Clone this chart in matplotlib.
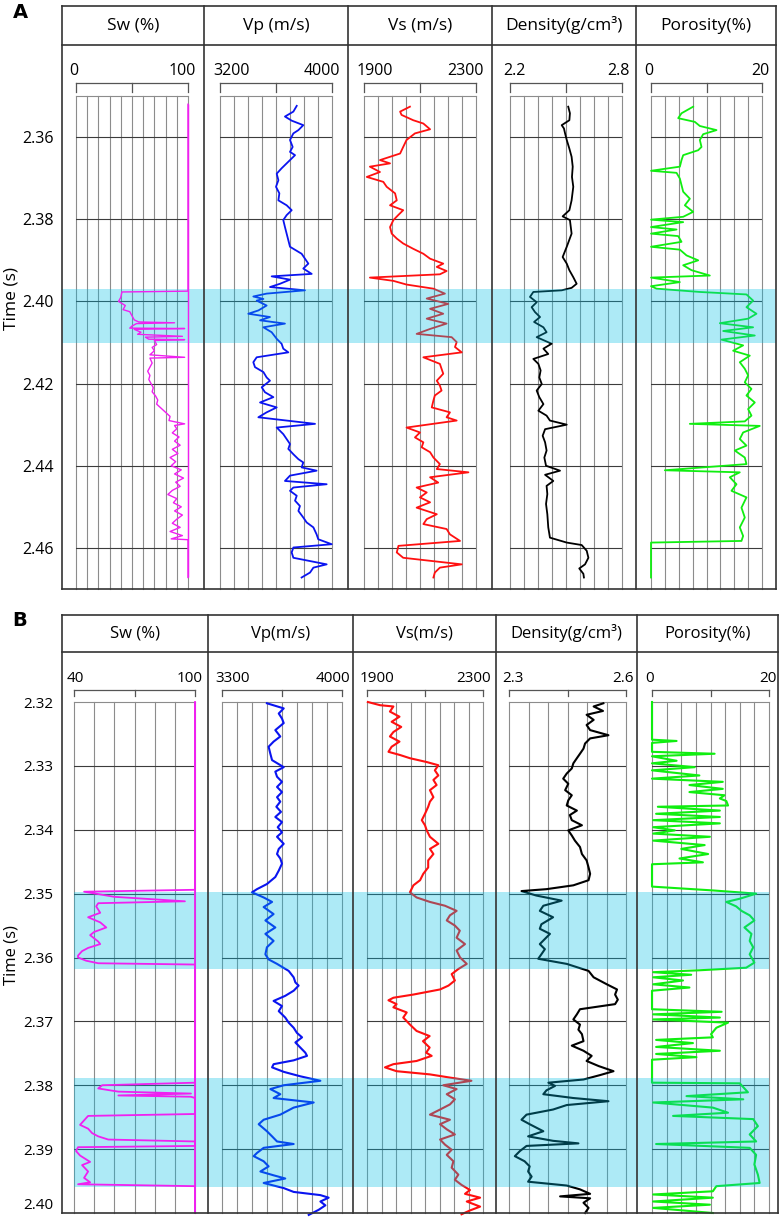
import matplotlib
matplotlib.use("Agg")
import matplotlib.pyplot as plt
from matplotlib.lines import Line2D
from matplotlib.transforms import blended_transform_factory, offset_copy
import numpy as np

plt.rcParams['font.family'] = ['Open Sans', 'DejaVu Sans']

# ======================= DATA =======================
# ---- Panel A ----
A_TITLES = ["Sw (%)", "Vp (m/s)", "Vs (m/s)", "Density(g/cm³)", "Porosity(%)"]
A_SCALE_MIN = [0, 3200, 1900, 2.2, 0]
A_SCALE_MAX = [100, 4000, 2300, 2.8, 20]
A_SCALE_LABELS = [("0", "100"), ("3200", "4000"), ("1900", "2300"), ("2.2", "2.8"), ("0", "20")]
A_DIVS = [10, 8, 8, 8, 8]
A_TIME_TICKS = [2.36, 2.38, 2.40, 2.42, 2.44, 2.46]
A_TIME_RANGE = (2.35, 2.47)
A_BANDS = [(2.397, 2.410)]

A_SW_T = [2.352, 2.3975, 2.3977, 2.3990, 2.4000, 2.4010, 2.4020, 2.4025, 2.4035, 2.4045, 2.4050, 2.4052, 2.4054,
          2.4060, 2.4065, 2.4066, 2.4068, 2.4075, 2.4080, 2.4085, 2.4087, 2.4092, 2.4093, 2.4095, 2.4105, 2.4112,
          2.4120, 2.4130, 2.4136, 2.4138, 2.4150, 2.4160, 2.4170, 2.4180, 2.4190, 2.4200, 2.4210, 2.4220, 2.4230,
          2.4240, 2.4250, 2.4260, 2.4270, 2.4280, 2.4290, 2.4298, 2.4302, 2.4310, 2.4320, 2.4330, 2.4340, 2.4350,
          2.4360, 2.4370, 2.4380, 2.4390, 2.4400, 2.4410, 2.4420, 2.4430, 2.4440, 2.4450, 2.4460, 2.4470, 2.4480,
          2.4490, 2.4500, 2.4510, 2.4520, 2.4530, 2.4540, 2.4550, 2.4560, 2.4570, 2.4578, 2.4580, 2.4672]
A_SW_V = [100, 100, 41, 40, 38, 44, 42, 48, 50, 52, 56, 88, 54,
          50, 48, 97, 52, 58, 55, 95, 62, 65, 97, 70, 72, 68,
          70, 66, 97, 66, 68, 66, 64, 66, 65, 67, 69, 68, 71,
          73, 72, 76, 80, 84, 83, 97, 88, 90, 86, 92, 88, 93,
          86, 91, 84, 89, 85, 94, 88, 96, 89, 93, 86, 82, 90,
          87, 94, 88, 95, 90, 86, 93, 84, 95, 85, 100, 100]

A_VP_T = [2.3524, 2.3538, 2.3550, 2.3560, 2.3571, 2.3583, 2.3591, 2.3607, 2.3624, 2.3636, 2.3644, 2.3656, 2.3664,
          2.3676, 2.3689, 2.3705, 2.3721, 2.3737, 2.3754, 2.3766, 2.3778, 2.3790, 2.3802, 2.3819, 2.3835, 2.3851,
          2.3867, 2.3884, 2.3896, 2.3908, 2.3920, 2.3933, 2.3939, 2.3947, 2.3957, 2.3965, 2.3973, 2.3981, 2.3988,
          2.3994, 2.3998, 2.4010, 2.4022, 2.4030, 2.4038, 2.4046, 2.4054, 2.4063, 2.4075, 2.4091, 2.4103, 2.4115,
          2.4124, 2.4136, 2.4148, 2.4160, 2.4172, 2.4185, 2.4193, 2.4209, 2.4221, 2.4233, 2.4246, 2.4258, 2.4270,
          2.4282, 2.4290, 2.4298, 2.4307, 2.4323, 2.4335, 2.4347, 2.4359, 2.4372, 2.4384, 2.4392, 2.4404, 2.4412,
          2.4424, 2.4437, 2.4445, 2.4453, 2.4461, 2.4473, 2.4485, 2.4498, 2.4510, 2.4526, 2.4538, 2.4550, 2.4567,
          2.4579, 2.4591, 2.4599, 2.4611, 2.4624, 2.4640, 2.4648, 2.4660, 2.4672]
A_VP_V = [3748, 3724, 3664, 3712, 3795, 3760, 3724, 3700, 3719, 3700, 3736, 3700, 3676,
          3640, 3605, 3617, 3600, 3624, 3617, 3676, 3712, 3676, 3652, 3664, 3676, 3688,
          3700, 3783, 3807, 3831, 3795, 3855, 3569, 3700, 3629, 3557, 3807, 3533, 3438,
          3510, 3462, 3533, 3474, 3402, 3557, 3486, 3664, 3510, 3569, 3605, 3640, 3652,
          3688, 3462, 3438, 3450, 3510, 3533, 3557, 3498, 3521, 3581, 3486, 3605, 3533,
          3474, 3676, 3879, 3605, 3652, 3676, 3700, 3688, 3724, 3760, 3795, 3783, 3890,
          3700, 3664, 3962, 3724, 3700, 3748, 3736, 3771, 3760, 3795, 3819, 3867, 3890,
          3902, 3998, 3724, 3712, 3724, 3962, 3867, 3843, 3783]

A_VS_T = [2.3526, 2.3538, 2.3546, 2.3559, 2.3567, 2.3581, 2.3591, 2.3607, 2.3624, 2.3640, 2.3656, 2.3664, 2.3672,
          2.3685, 2.3697, 2.3709, 2.3721, 2.3737, 2.3754, 2.3766, 2.3778, 2.3790, 2.3802, 2.3819, 2.3835, 2.3847,
          2.3859, 2.3872, 2.3884, 2.3896, 2.3908, 2.3916, 2.3926, 2.3934, 2.3942, 2.3950, 2.3959, 2.3969, 2.3981,
          2.3993, 2.4006, 2.4018, 2.4030, 2.4042, 2.4054, 2.4067, 2.4079, 2.4087, 2.4099, 2.4111, 2.4124, 2.4136,
          2.4152, 2.4164, 2.4176, 2.4193, 2.4205, 2.4217, 2.4229, 2.4241, 2.4258, 2.4270, 2.4282, 2.4290, 2.4307,
          2.4319, 2.4331, 2.4343, 2.4355, 2.4367, 2.4380, 2.4396, 2.4408, 2.4416, 2.4428, 2.4441, 2.4453, 2.4465,
          2.4477, 2.4489, 2.4502, 2.4518, 2.4530, 2.4542, 2.4554, 2.4567, 2.4583, 2.4595, 2.4611, 2.4624, 2.4640,
          2.4648, 2.4660, 2.4672]
A_VS_V = [2064, 2029, 2034, 2076, 2112, 2136, 2082, 2052, 2040, 2029, 1957, 1993, 1921,
          1957, 1910, 1969, 1981, 2011, 2017, 1993, 2040, 2022, 2005, 1993, 1999, 2017,
          2040, 2076, 2112, 2136, 2183, 2160, 2195, 2171, 1921, 2005, 2052, 2148, 2189,
          2124, 2201, 2136, 2183, 2124, 2195, 2136, 2088, 2213, 2231, 2225, 2249, 2112,
          2171, 2177, 2183, 2160, 2171, 2177, 2153, 2148, 2142, 2207, 2195, 2231, 2052,
          2100, 2082, 2112, 2106, 2136, 2148, 2171, 2160, 2273, 2136, 2165, 2088, 2124,
          2100, 2136, 2088, 2160, 2124, 2112, 2195, 2207, 2243, 2023, 2017, 2040, 2249,
          2171, 2153, 2148]

A_DEN_T = [2.3526, 2.3542, 2.3559, 2.3571, 2.3579, 2.3591, 2.3607, 2.3628, 2.3648, 2.3672, 2.3697, 2.3721, 2.3754,
           2.3778, 2.3793, 2.3802, 2.3835, 2.3867, 2.3892, 2.3908, 2.3924, 2.3941, 2.3957, 2.3967, 2.3973, 2.3977,
           2.3989, 2.4002, 2.4014, 2.4026, 2.4038, 2.4050, 2.4063, 2.4075, 2.4087, 2.4103, 2.4115, 2.4128, 2.4140,
           2.4152, 2.4168, 2.4185, 2.4201, 2.4217, 2.4233, 2.4250, 2.4266, 2.4278, 2.4290, 2.4300, 2.4311, 2.4327,
           2.4343, 2.4363, 2.4380, 2.4400, 2.4412, 2.4422, 2.4437, 2.4449, 2.4469, 2.4493, 2.4518, 2.4550, 2.4575,
           2.4587, 2.4593, 2.4607, 2.4624, 2.4640, 2.4650, 2.4663, 2.4672]
A_DEN_V = [2.512, 2.521, 2.518, 2.477, 2.489, 2.495, 2.504, 2.518, 2.530, 2.536, 2.532, 2.539, 2.530,
           2.518, 2.482, 2.521, 2.530, 2.504, 2.482, 2.504, 2.518, 2.539, 2.557, 2.530, 2.477, 2.325,
           2.307, 2.343, 2.316, 2.334, 2.361, 2.329, 2.379, 2.396, 2.343, 2.423, 2.379, 2.405, 2.325,
           2.352, 2.364, 2.357, 2.370, 2.343, 2.357, 2.379, 2.352, 2.396, 2.414, 2.504, 2.388, 2.375,
           2.388, 2.396, 2.384, 2.393, 2.468, 2.388, 2.432, 2.396, 2.400, 2.393, 2.400, 2.405, 2.414,
           2.504, 2.584, 2.611, 2.620, 2.602, 2.571, 2.593, 2.596]

A_POR_T = [2.3526, 2.3542, 2.3554, 2.3563, 2.3573, 2.3583, 2.3593, 2.3607, 2.3624, 2.3632, 2.3644, 2.3656, 2.3672,
           2.3682, 2.3687, 2.3701, 2.3717, 2.3733, 2.3750, 2.3766, 2.3782, 2.3794, 2.3801, 2.3807, 2.3819, 2.3825,
           2.3835, 2.3841, 2.3855, 2.3867, 2.3874, 2.3888, 2.3900, 2.3912, 2.3924, 2.3937, 2.3942, 2.3953, 2.3963,
           2.3969, 2.3977, 2.3983, 2.3998, 2.4014, 2.4030, 2.4042, 2.4053, 2.4063, 2.4072, 2.4083, 2.4093, 2.4107,
           2.4120, 2.4132, 2.4148, 2.4164, 2.4180, 2.4197, 2.4213, 2.4229, 2.4246, 2.4262, 2.4278, 2.4292, 2.4298,
           2.4303, 2.4319, 2.4335, 2.4351, 2.4363, 2.4380, 2.4396, 2.4411, 2.4416, 2.4428, 2.4445, 2.4461, 2.4477,
           2.4502, 2.4526, 2.4550, 2.4571, 2.4583, 2.4587, 2.4672]
A_POR_V = [7.6, 5.5, 4.9, 7.9, 8.8, 11.8, 9.4, 8.8, 9.1, 8.5, 5.8, 5.5, 5.2,
           0.0, 4.6, 5.2, 5.5, 5.8, 7.0, 6.1, 7.6, 5.8, 0.0, 5.8, 0.0, 4.6,
           0.0, 4.9, 5.5, 0.0, 5.2, 6.4, 8.5, 5.8, 7.3, 10.6, 0.0, 5.2, 0.0,
           1.0, 8.8, 17.2, 18.4, 17.2, 19.0, 17.5, 12.4, 18.4, 13.0, 18.7, 12.7, 16.6,
           14.8, 17.8, 16.0, 16.9, 17.5, 16.9, 18.1, 17.2, 18.7, 17.5, 18.1, 16.9, 7.0,
           19.6, 16.6, 16.0, 17.2, 15.1, 16.9, 17.2, 2.5, 16.0, 14.2, 15.4, 14.5, 17.2,
           16.3, 16.9, 16.0, 16.6, 16.3, 0.0, 0.0]

# ---- Panel B ----
B_TITLES = ["Sw (%)", "Vp(m/s)", "Vs(m/s)", "Density(g/cm³)", "Porosity(%)"]
B_SCALE_MIN = [40, 3300, 1900, 2.3, 0]
B_SCALE_MAX = [100, 4000, 2300, 2.6, 20]
B_SCALE_LABELS = [("40", "100"), ("3300", "4000"), ("1900", "2300"), ("2.3", "2.6"), ("0", "20")]
B_DIVS = [6, 8, 8, 6, 8]
B_TIME_TICKS = [2.32, 2.33, 2.34, 2.35, 2.36, 2.37, 2.38, 2.39, 2.40]
B_TIME_RANGE = (2.32, 2.40)
B_BANDS = [(2.3497, 2.3618), (2.3788, 2.3960)]

B_SW_T = [2.3200, 2.3494, 2.3497, 2.3505, 2.3512, 2.3515, 2.3520, 2.3530, 2.3537, 2.3545, 2.3553, 2.3560, 2.3565,
          2.3575, 2.3579, 2.3585, 2.3590, 2.3597, 2.3600, 2.3605, 2.3609, 2.3611, 2.3796, 2.3800, 2.3805, 2.3810,
          2.3813, 2.3816, 2.3818, 2.3820, 2.3845, 2.3848, 2.3855, 2.3862, 2.3868, 2.3875, 2.3880, 2.3885, 2.3888,
          2.3895, 2.3897, 2.3903, 2.3910, 2.3920, 2.3925, 2.3935, 2.3945, 2.3952, 2.3955, 2.3958, 2.4000]
B_SW_V = [100, 100, 45, 60, 95, 52, 51, 53, 47, 53, 56, 50, 48,
          52, 53, 47, 44, 42, 42, 46, 52, 100, 100, 54, 52, 62,
          98, 62, 98, 100, 100, 47, 45, 43, 47, 49, 52, 57, 100,
          100, 42, 41, 43, 48, 44, 47, 45, 48, 42, 100, 100]

B_VP_T = [2.3202, 2.3210, 2.3218, 2.3226, 2.3233, 2.3244, 2.3254, 2.3262, 2.3270, 2.3281, 2.3291, 2.3302, 2.3309,
          2.3317, 2.3325, 2.3333, 2.3341, 2.3349, 2.3356, 2.3364, 2.3372, 2.3380, 2.3388, 2.3396, 2.3404, 2.3411,
          2.3422, 2.3430, 2.3438, 2.3445, 2.3453, 2.3464, 2.3474, 2.3485, 2.3493, 2.3498, 2.3506, 2.3513, 2.3521,
          2.3532, 2.3542, 2.3553, 2.3563, 2.3574, 2.3584, 2.3595, 2.3603, 2.3610, 2.3621, 2.3631, 2.3639, 2.3644,
          2.3652, 2.3660, 2.3668, 2.3676, 2.3684, 2.3694, 2.3702, 2.3710, 2.3718, 2.3725, 2.3733, 2.3741, 2.3749,
          2.3754, 2.3761, 2.3767, 2.3772, 2.3779, 2.3786, 2.3793, 2.3800, 2.3806, 2.3814, 2.3820, 2.3827, 2.3835,
          2.3846, 2.3854, 2.3861, 2.3872, 2.3880, 2.3888, 2.3892, 2.3898, 2.3906, 2.3911, 2.3919, 2.3927, 2.3935,
          2.3941, 2.3946, 2.3953, 2.3961, 2.3967, 2.3972, 2.3976, 2.3982, 2.3988, 2.3995, 2.4003]
B_VP_V = [3562, 3660, 3631, 3650, 3660, 3611, 3640, 3601, 3572, 3582, 3592, 3660, 3611,
          3621, 3650, 3621, 3650, 3621, 3640, 3617, 3644, 3611, 3650, 3625, 3650, 3621,
          3660, 3631, 3621, 3640, 3650, 3631, 3611, 3562, 3504, 3475, 3543, 3592, 3543,
          3601, 3553, 3611, 3553, 3601, 3562, 3553, 3572, 3621, 3689, 3718, 3728, 3747,
          3718, 3669, 3601, 3650, 3631, 3669, 3689, 3718, 3737, 3767, 3728, 3757, 3786,
          3796, 3718, 3601, 3592, 3660, 3757, 3874, 3660, 3582, 3640, 3601, 3835, 3718,
          3640, 3543, 3514, 3562, 3592, 3621, 3718, 3543, 3504, 3485, 3543, 3572, 3524,
          3601, 3669, 3543, 3660, 3718, 3874, 3922, 3874, 3903, 3864, 3806]

B_VS_T = [2.3200, 2.3205, 2.3207, 2.3215, 2.3223, 2.3231, 2.3239, 2.3247, 2.3254, 2.3262, 2.3270, 2.3278, 2.3283,
          2.3288, 2.3294, 2.3299, 2.3307, 2.3315, 2.3322, 2.3330, 2.3338, 2.3349, 2.3356, 2.3364, 2.3375, 2.3385,
          2.3393, 2.3401, 2.3411, 2.3422, 2.3430, 2.3438, 2.3448, 2.3459, 2.3469, 2.3479, 2.3487, 2.3498, 2.3506,
          2.3513, 2.3519, 2.3527, 2.3534, 2.3542, 2.3550, 2.3558, 2.3569, 2.3579, 2.3589, 2.3600, 2.3610, 2.3618,
          2.3626, 2.3636, 2.3644, 2.3650, 2.3658, 2.3663, 2.3667, 2.3673, 2.3678, 2.3686, 2.3694, 2.3705, 2.3715,
          2.3723, 2.3731, 2.3741, 2.3749, 2.3754, 2.3762, 2.3767, 2.3772, 2.3778, 2.3783, 2.3788, 2.3793, 2.3800,
          2.3806, 2.3814, 2.3822, 2.3830, 2.3838, 2.3846, 2.3854, 2.3861, 2.3869, 2.3877, 2.3885, 2.3893, 2.3901,
          2.3909, 2.3919, 2.3929, 2.3940, 2.3948, 2.3956, 2.3964, 2.3970, 2.3976, 2.3982, 2.3990, 2.3996, 2.4002]
B_VS_V = [1903, 1945, 1991, 1979, 2012, 1985, 2018, 1991, 1979, 2012, 1985, 1974, 2014,
          2048, 2106, 2146, 2134, 2146, 2129, 2140, 2117, 2129, 2117, 2111, 2100, 2089,
          2100, 2106, 2117, 2146, 2117, 2129, 2111, 2111, 2094, 2083, 2060, 2048, 2071,
          2117, 2169, 2209, 2186, 2175, 2203, 2220, 2209, 2238, 2209, 2221, 2244, 2215,
          2192, 2203, 2181, 2152, 2060, 1991, 1974, 2002, 1991, 2037, 2025, 2048, 2071,
          2116, 2093, 2116, 2104, 2123, 2071, 1991, 1962, 2002, 2117, 2186, 2260, 2163,
          2209, 2175, 2203, 2186, 2152, 2117, 2186, 2152, 2175, 2203, 2152, 2169, 2192,
          2175, 2198, 2192, 2215, 2203, 2226, 2255, 2238, 2290, 2244, 2290, 2255, 2226]

B_DEN_T = [2.3202, 2.3207, 2.3214, 2.3220, 2.3228, 2.3236, 2.3244, 2.3252, 2.3257, 2.3265, 2.3273, 2.3281, 2.3288,
           2.3296, 2.3304, 2.3312, 2.3320, 2.3328, 2.3338, 2.3346, 2.3354, 2.3362, 2.3370, 2.3377, 2.3385, 2.3393,
           2.3401, 2.3409, 2.3417, 2.3427, 2.3438, 2.3448, 2.3459, 2.3469, 2.3479, 2.3487, 2.3493, 2.3496, 2.3503,
           2.3511, 2.3519, 2.3527, 2.3537, 2.3548, 2.3555, 2.3563, 2.3571, 2.3579, 2.3587, 2.3595, 2.3602, 2.3610,
           2.3621, 2.3631, 2.3642, 2.3650, 2.3658, 2.3666, 2.3673, 2.3681, 2.3689, 2.3697, 2.3705, 2.3713, 2.3720,
           2.3731, 2.3738, 2.3746, 2.3754, 2.3762, 2.3770, 2.3778, 2.3784, 2.3791, 2.3796, 2.3801, 2.3808, 2.3814,
           2.3820, 2.3825, 2.3831, 2.3838, 2.3846, 2.3854, 2.3861, 2.3872, 2.3880, 2.3887, 2.3891, 2.3895, 2.3903,
           2.3911, 2.3919, 2.3927, 2.3935, 2.3943, 2.3951, 2.3957, 2.3963, 2.3970, 2.3974, 2.3977, 2.3984, 2.3992,
           2.4000]
B_DEN_V = [2.542, 2.517, 2.541, 2.499, 2.517, 2.499, 2.508, 2.555, 2.508, 2.495, 2.491, 2.482, 2.474,
           2.465, 2.461, 2.448, 2.439, 2.452, 2.444, 2.461, 2.452, 2.448, 2.474, 2.456, 2.461, 2.487,
           2.452, 2.461, 2.469, 2.482, 2.487, 2.499, 2.504, 2.508, 2.504, 2.465, 2.396, 2.332, 2.370,
           2.435, 2.388, 2.379, 2.413, 2.383, 2.379, 2.405, 2.392, 2.379, 2.392, 2.383, 2.375, 2.448,
           2.504, 2.517, 2.551, 2.577, 2.572, 2.579, 2.572, 2.482, 2.474, 2.465, 2.482, 2.478, 2.487,
           2.491, 2.461, 2.491, 2.512, 2.499, 2.530, 2.568, 2.534, 2.491, 2.401, 2.418, 2.396, 2.388,
           2.465, 2.555, 2.448, 2.413, 2.345, 2.332, 2.353, 2.388, 2.349, 2.413, 2.478, 2.345, 2.328,
           2.315, 2.340, 2.353, 2.349, 2.358, 2.349, 2.448, 2.482, 2.508, 2.431, 2.508, 2.491, 2.504,
           2.495]

B_POR_T = [2.3200, 2.3259, 2.3261, 2.3264, 2.3278, 2.3281, 2.3285, 2.3292, 2.3296, 2.3302, 2.3307, 2.3315, 2.3320,
           2.3325, 2.3330, 2.3336, 2.3341, 2.3346, 2.3351, 2.3355, 2.3362, 2.3364, 2.3370, 2.3375, 2.3380, 2.3385,
           2.3390, 2.3396, 2.3401, 2.3406, 2.3411, 2.3417, 2.3424, 2.3430, 2.3438, 2.3445, 2.3451, 2.3454, 2.3489,
           2.3495, 2.3500, 2.3508, 2.3513, 2.3520, 2.3527, 2.3534, 2.3542, 2.3553, 2.3563, 2.3574, 2.3584, 2.3595,
           2.3608, 2.3616, 2.3620, 2.3623, 2.3627, 2.3631, 2.3636, 2.3642, 2.3647, 2.3652, 2.3681, 2.3685, 2.3689,
           2.3694, 2.3697, 2.3702, 2.3710, 2.3720, 2.3725, 2.3729, 2.3734, 2.3740, 2.3746, 2.3751, 2.3756, 2.3760,
           2.3796, 2.3797, 2.3803, 2.3811, 2.3817, 2.3822, 2.3827, 2.3835, 2.3843, 2.3848, 2.3853, 2.3864, 2.3877,
           2.3888, 2.3892, 2.3898, 2.3909, 2.3924, 2.3940, 2.3953, 2.3958, 2.3966, 2.3971, 2.3976, 2.3982, 2.3987,
           2.3992, 2.4000]
B_POR_V = [0.0, 0.0, 4.2, 0.0, 0.0, 10.7, 0.0, 4.2, 0.0, 7.3, 0.0, 8.1, 0.0,
           12.1, 6.4, 12.1, 6.4, 12.4, 11.6, 12.7, 13.0, 1.0, 11.6, 0.7, 11.6, 0.2,
           11.6, 0.2, 3.9, 0.2, 9.9, 0.2, 9.0, 5.0, 9.6, 4.7, 8.7, 0.0, 0.0,
           10.4, 17.8, 15.0, 12.7, 14.4, 15.3, 16.7, 17.5, 15.8, 17.0, 16.7, 17.3, 16.7,
           17.5, 16.1, 8.1, 0.2, 6.7, 0.2, 5.3, 0.2, 6.4, 0.0, 0.0, 11.9, 0.2,
           11.6, 0.2, 13.0, 11.0, 10.1, 10.4, 0.7, 7.0, 0.7, 11.6, 0.7, 7.6, 0.0,
           0.0, 15.0, 15.6, 16.4, 5.9, 15.6, 0.2, 10.4, 13.0, 3.6, 17.3, 18.1, 16.7,
           17.8, 0.7, 16.7, 17.8, 17.5, 18.1, 18.4, 11.0, 10.4, 0.2, 10.4, 0.2, 9.9,
           0.2, 10.4]

CURVE_COLORS = ["#f020f0", "#0a14f0", "#ff1010", "#000000", "#10ee10"]

# ======================= LAYOUT (pixels) =======================
W, H = 782, 1220
LAYOUT_A = dict(frame=(62, 6, 776, 589), header_bottom=45,
                cols=[62, 204, 348, 492, 636, 776],
                boxes=[(76, 188), (220, 332), (364, 476), (510, 622), (651, 762)],
                grid_top=96, bar_y=83, bar_tick=92, label_y=71, band_x=(62, 776),
                title_fs=12.5, tick_fs=11.5, letter="A", letter_xy=(20, 12), ylabel_y=298,
                lw=1.3, sw_lw=1.0)
LAYOUT_B = dict(frame=(62, 615, 778, 1213), header_bottom=652,
                cols=[62, 208, 353, 496, 637, 778],
                boxes=[(74, 195), (222, 342), (367, 483), (509, 626), (652, 769)],
                grid_top=702, bar_y=690, bar_tick=696, label_y=679, band_x=(74, 769),
                title_fs=12, tick_fs=11, letter="B", letter_xy=(20, 621), ylabel_y=955,
                lw=1.5, sw_lw=1.3)

fig = plt.figure(figsize=(W / 100, H / 100), dpi=100)


def fx(x):
    return x / W


def fy(y):
    return 1 - y / H


def axes_px(l, t, r, b):
    return fig.add_axes([fx(l), fy(b), fx(r) - fx(l), fy(t) - fy(b)])


def fig_line(x0, y0, x1, y1, color="#333333", lw=1.2):
    fig.add_artist(Line2D([fx(x0), fx(x1)], [fy(y0), fy(y1)], transform=fig.transFigure,
                          color=color, lw=lw, zorder=10))


def draw_panel(L, titles, smin, smax, slabels, divs, tticks, trange, bands, curves):
    fl, ft, fr, fb = L["frame"]
    gt = L["grid_top"]
    # tracks
    for i in range(5):
        bl, br = L["boxes"][i]
        ax = axes_px(bl, gt, br, fb)
        ax.set_xlim(smin[i], smax[i])
        ax.set_ylim(trange[1], trange[0])
        ax.axis("off")
        for xv in np.linspace(smin[i], smax[i], divs[i] + 1):
            ax.axvline(xv, color="#8c8c8c", lw=0.8, clip_on=False, zorder=1)
        ax.axhline(trange[0], color="#8c8c8c", lw=0.8, clip_on=False, zorder=1)
        for tv in tticks:
            if trange[0] < tv < trange[1]:
                ax.axhline(tv, color="#3c3c3c", lw=0.8, zorder=1)
        if i > 0:
            t, v = curves[i]
            ax.plot(v, t, color=CURVE_COLORS[i], lw=L["lw"], zorder=3, clip_on=False,
                    solid_joinstyle="round")
        # scale bar
        tr = blended_transform_factory(ax.transData, fig.transFigure)
        mid = (smin[i] + smax[i]) / 2
        ax.add_line(Line2D([smin[i], smax[i]], [fy(L["bar_y"])] * 2, transform=tr, color="#555555",
                           lw=0.9, clip_on=False))
        for xv in (smin[i], mid, smax[i]):
            ax.add_line(Line2D([xv, xv], [fy(L["bar_y"]), fy(L["bar_tick"])], transform=tr,
                               color="#555555", lw=0.9, clip_on=False))
        ax.text(smin[i], fy(L["label_y"]), slabels[i][0],
                transform=offset_copy(tr, fig=fig, x=-7, y=0, units="dots"),
                ha="left", va="center", fontsize=L["tick_fs"], clip_on=False)
        ax.text(smax[i], fy(L["label_y"]), slabels[i][1],
                transform=offset_copy(tr, fig=fig, x=8, y=0, units="dots"),
                ha="right", va="center", fontsize=L["tick_fs"], clip_on=False)
        # header title
        cl, cr = L["cols"][i], L["cols"][i + 1]
        fig.text(fx((cl + cr) / 2), fy((ft + L["header_bottom"]) / 2), titles[i],
                 ha="center", va="center", fontsize=L["title_fs"])

    # overlay time axis + bands
    tax = axes_px(fl, gt, fr, fb)
    tax.set_ylim(trange[1], trange[0])
    tax.set_xlim(0, 1)
    tax.patch.set_visible(False)
    for s in tax.spines.values():
        s.set_visible(False)
    tax.set_xticks([])
    tax.set_yticks(tticks)
    tax.set_yticklabels(["%.2f" % v for v in tticks])
    tax.tick_params(axis="y", length=0, pad=6, labelsize=L["tick_fs"])
    if tticks[-1] >= trange[1]:
        tax.get_yticklabels()[-1].set_va("bottom")
    bx0 = (L["band_x"][0] - fl) / (fr - fl)
    bx1 = (L["band_x"][1] - fl) / (fr - fl)
    for b0, b1 in bands:
        tax.axhspan(b0, b1, xmin=bx0, xmax=bx1, color="#00bee6", alpha=0.32, lw=0, zorder=5)

    # Sw curve drawn above the bands
    bl, br = L["boxes"][0]
    sax = axes_px(bl, gt, br, fb)
    sax.set_xlim(smin[0], smax[0])
    sax.set_ylim(trange[1], trange[0])
    sax.axis("off")
    t, v = curves[0]
    sax.vlines(max(v), min(t), max(t), color=CURVE_COLORS[0], lw=L["sw_lw"], clip_on=False)
    sax.plot(v, t, color=CURVE_COLORS[0], lw=L["sw_lw"], clip_on=False, solid_joinstyle="round")

    # frame lines
    fig_line(fl, ft, fr, ft)
    fig_line(fl, fb, fr, fb)
    fig_line(fl, L["header_bottom"], fr, L["header_bottom"])
    for c in L["cols"]:
        fig_line(c, ft, c, fb)

    fig.text(fx(12), fy(L["ylabel_y"]), "Time (s)", rotation=90, ha="center", va="center",
             fontsize=L["title_fs"])
    fig.text(fx(L["letter_xy"][0]), fy(L["letter_xy"][1]), L["letter"], ha="center", va="center",
             fontsize=14, fontweight="bold", family=["DejaVu Sans"])


draw_panel(LAYOUT_A, A_TITLES, A_SCALE_MIN, A_SCALE_MAX, A_SCALE_LABELS, A_DIVS, A_TIME_TICKS,
           A_TIME_RANGE, A_BANDS,
           [(A_SW_T, A_SW_V), (A_VP_T, A_VP_V), (A_VS_T, A_VS_V), (A_DEN_T, A_DEN_V), (A_POR_T, A_POR_V)])
draw_panel(LAYOUT_B, B_TITLES, B_SCALE_MIN, B_SCALE_MAX, B_SCALE_LABELS, B_DIVS, B_TIME_TICKS,
           B_TIME_RANGE, B_BANDS,
           [(B_SW_T, B_SW_V), (B_VP_T, B_VP_V), (B_VS_T, B_VS_V), (B_DEN_T, B_DEN_V), (B_POR_T, B_POR_V)])

fig.savefig("out.png", dpi=100)
